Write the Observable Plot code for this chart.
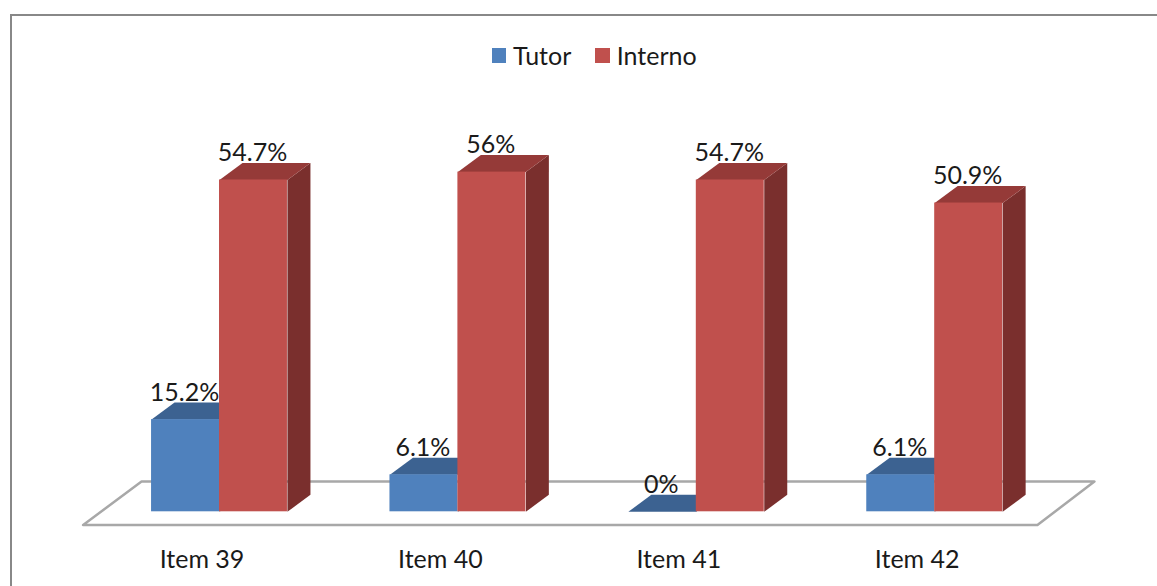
<!DOCTYPE html>
<html>
<head>
<meta charset="utf-8">
<script src="https://cdn.jsdelivr.net/npm/d3@7"></script>
<script src="https://cdn.jsdelivr.net/npm/@observablehq/plot@0.6"></script>
<style>
  html, body { margin: 0; background: #fff; overflow: hidden; }
  #page { position: relative; width: 1157px; height: 586px; font-family: Lato, sans-serif; color: #1a1a1a; }
  #page svg { position: absolute; left: 0; top: 0; }
  #frame { position: absolute; left: 9.5px; top: 14px; right: 0; bottom: 0; border-left: 2.5px solid #888; border-top: 2.5px solid #888; }
  #legend { position: absolute; left: 491.5px; top: 41px; display: flex; align-items: center; font-size: 25px; line-height: 28px; }
  #legend i { display: inline-block; width: 14.5px; height: 15px; margin-right: 7px; }
  #legend span { margin-right: 24px; }
</style>
</head>
<body>
<div id="page">
  <div id="frame"></div>
</div>
<script>
const categories = ["Item 39", "Item 40", "Item 41", "Item 42"];
const tutor = [15.2, 6.1, 0, 6.1];
const interno = [54.7, 56, 54.7, 50.9];
const tutorLabels = ["15.2%", "6.1%", "0%", "6.1%"];
const internoLabels = ["54.7%", "56%", "54.7%", "50.9%"];

// One x unit is one category; y is in percent.
const barWidth = 0.285;
const depthX = 0.0965;
const depthY = 2.8;

const faceNames = ["Tutor", "Tutor top", "Tutor side", "Interno", "Interno top", "Interno side"];
const faceColors = ["#4f81bd", "#3c6291", "#325378", "#c0504d", "#953a38", "#7a2f2d"];

const bars = [
  ...categories.map((item, i) => ({item, i, series: "Tutor", value: tutor[i], label: tutorLabels[i], x1: i - barWidth, x2: i})),
  ...categories.map((item, i) => ({item, i, series: "Interno", value: interno[i], label: internoLabels[i], x1: i, x2: i + barWidth}))
];

// Extruded top and right-hand faces, as closed outlines in scale units.
const topFace = d => [
  {x: d.x1, y: d.value}, {x: d.x2, y: d.value},
  {x: d.x2 + depthX, y: d.value + depthY}, {x: d.x1 + depthX, y: d.value + depthY}
].map(p => ({...p, id: `${d.series}${d.i}top`, face: `${d.series} top`}));
const sideFace = d => [
  {x: d.x2, y: 0}, {x: d.x2 + depthX, y: depthY},
  {x: d.x2 + depthX, y: d.value + depthY}, {x: d.x2, y: d.value}
].map(p => ({...p, id: `${d.series}${d.i}side`, face: `${d.series} side`}));

const seriesMarks = name => {
  const rows = bars.filter(d => d.series === name);
  return [
    Plot.line(rows.filter(d => d.value > 0).flatMap(sideFace), {x: "x", y: "y", z: "id", fill: "face", stroke: "none"}),
    Plot.line(rows.flatMap(topFace), {x: "x", y: "y", z: "id", fill: "face", stroke: "none"}),
    Plot.rect(rows, {x1: "x1", x2: "x2", y1: 0, y2: "value", fill: "series"})
  ];
};

// The tilted floor the bars stand on.
const floor = [
  {x: -0.572, y: -2.18}, {x: 3.431, y: -2.18}, {x: 3.67, y: 5}, {x: -0.327, y: 5}, {x: -0.572, y: -2.18}
];

const chart = Plot.plot({
  width: 1157,
  height: 586,
  marginLeft: 99.8,
  marginRight: 103.6,
  marginTop: 171.6,
  marginBottom: 74.7,
  style: {background: "transparent", fontFamily: "Lato, sans-serif", color: "#1a1a1a"},
  x: {domain: [-0.5, 3.5]},
  y: {domain: [0, 56], axis: null},
  color: {domain: faceNames, range: faceColors},
  marks: [
    Plot.line(floor, {x: "x", y: "y", stroke: "#a8a8a8", strokeWidth: 2.5}),
    ...seriesMarks("Tutor"),
    ...seriesMarks("Interno"),
    Plot.text(bars, {
      x: d => (d.x1 + d.x2) / 2, y: "value", text: "label",
      fontSize: 25, dx: -1, dy: -19, lineAnchor: "bottom", fill: "#1a1a1a", stroke: "none"
    }),
    Plot.axisX({
      ticks: [0, 1, 2, 3], tickFormat: i => categories[i], tickSize: 0, tickPadding: 38,
      dx: -17.5, fontSize: 25, label: null, anchor: "bottom"
    })
  ]
});
document.getElementById("page").appendChild(chart);

// Series key, set inside the frame above the bars.
const legend = document.createElement("div");
legend.id = "legend";
for (const name of ["Tutor", "Interno"]) {
  const swatch = document.createElement("i");
  swatch.style.background = faceColors[faceNames.indexOf(name)];
  const text = document.createElement("span");
  text.textContent = name;
  legend.append(swatch, text);
}
document.getElementById("page").appendChild(legend);
</script>
</body>
</html>
